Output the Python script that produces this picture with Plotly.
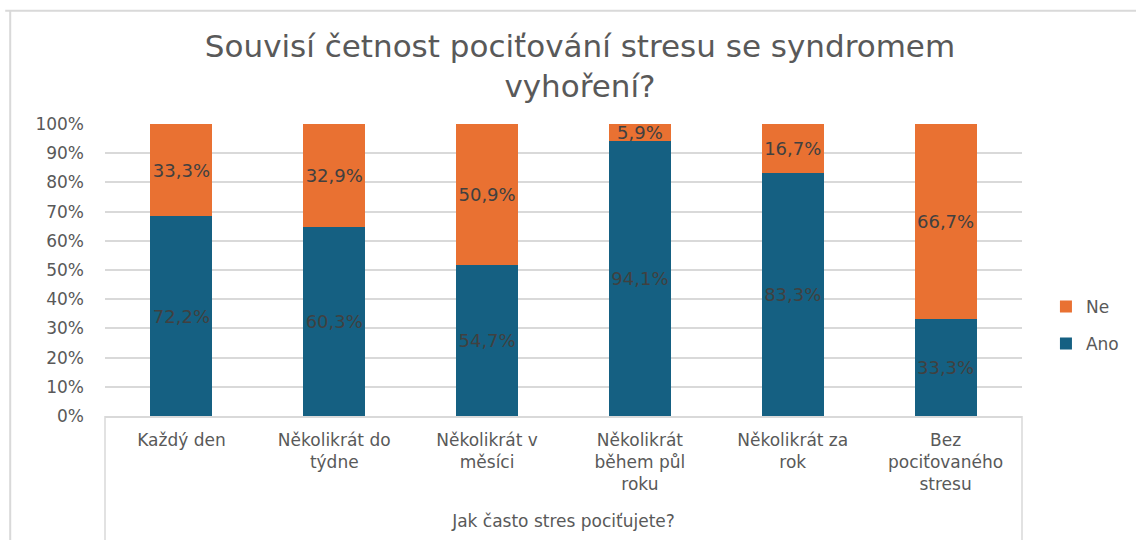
import plotly.graph_objects as go

# Stress frequency categories (x axis)
categories = [
    "Každý den",
    "Několikrát do<br>týdne",
    "Několikrát v<br>měsíci",
    "Několikrát<br>během půl<br>roku",
    "Několikrát za<br>rok",
    "Bez<br>pociťovaného<br>stresu",
]

# Shares of respondents per answer (percent)
ano_values = [72.2, 60.3, 54.7, 94.1, 83.3, 33.3]
ne_values = [33.3, 32.9, 50.9, 5.9, 16.7, 66.7]

ANO_COLOR = "#156082"
NE_COLOR = "#E97132"
GRID = "#D9D9D9"
TEXT_GRAY = "#595959"
LABEL_GRAY = "#404040"
FONT = "DejaVu Sans, Liberation Sans, sans-serif"


def fmt(v):
    return f"{v:.1f}".replace(".", ",") + "%"


fig = go.Figure()
fig.add_trace(go.Bar(
    name="Ano", x=categories, y=ano_values,
    text=[fmt(v) for v in ano_values],
    marker=dict(color=ANO_COLOR, line=dict(width=0)),
    legendgroup="ano", legendrank=2,
))
fig.add_trace(go.Bar(
    name="Ne", x=categories, y=ne_values,
    text=[fmt(v) for v in ne_values],
    marker=dict(color=NE_COLOR, line=dict(width=0)),
    legendgroup="ne", legendrank=1,
))
fig.update_traces(
    textposition="inside", insidetextanchor="middle",
    textangle=0, constraintext="none",
    textfont=dict(family=FONT, size=18, color=LABEL_GRAY),
)

L, R, T, B = 105, 112, 124, 122
W, H = 1136, 540
pw, ph = W - L - R, H - T - B


def px_x(p):
    return (p - L) / pw


def px_y(p):
    return (H - B - p) / ph


shapes = [
    # outer chart frame
    dict(type="line", xref="paper", yref="paper",
         x0=px_x(10), x1=px_x(10), y0=px_y(10), y1=px_y(545),
         line=dict(color=GRID, width=2)),
    dict(type="line", xref="paper", yref="paper",
         x0=px_x(5), x1=px_x(1140), y0=px_y(10), y1=px_y(10),
         line=dict(color=GRID, width=2)),
    # category axis box
    dict(type="line", xref="paper", yref="paper",
         x0=0, x1=0, y0=0, y1=px_y(545),
         line=dict(color=GRID, width=1.5)),
    dict(type="line", xref="paper", yref="paper",
         x0=1, x1=1, y0=0, y1=px_y(545),
         line=dict(color=GRID, width=1.5)),
]

fig.update_layout(
    width=W, height=H,
    barmode="stack", barnorm="percent", bargap=0.595,
    margin=dict(l=L, r=R, t=T, b=B, pad=0),
    paper_bgcolor="white", plot_bgcolor="white",
    font=dict(family=FONT, color=TEXT_GRAY, size=16),
    title=dict(
        text="Souvisí četnost pociťování stresu se syndromem<br>vyhoření?",
        x=580 / W, xanchor="center", y=1 - 57 / H, yanchor="middle",
        font=dict(family=FONT, size=31, color=TEXT_GRAY),
    ),
    legend=dict(
        x=px_x(1048), y=px_y(290), yanchor="top",
        traceorder="grouped", tracegroupgap=12,
        font=dict(family=FONT, size=17, color=TEXT_GRAY),
        bgcolor="rgba(0,0,0,0)",
    ),
    shapes=shapes,
    showlegend=True,
)
fig.update_xaxes(
    showgrid=False, showline=True, linecolor=GRID, linewidth=1.5,
    ticks="", tickfont=dict(family=FONT, size=17, color=TEXT_GRAY),
    ticklabelstandoff=8,
    title=dict(text="Jak často stres pociťujete?",
               font=dict(family=FONT, size=17, color=TEXT_GRAY), standoff=22),
)
fig.update_yaxes(
    range=[0, 100], dtick=10, ticksuffix="%",
    showgrid=True, gridcolor=GRID, gridwidth=1.5,
    zeroline=False, showline=False, ticks="",
    tickfont=dict(family=FONT, size=17, color=TEXT_GRAY),
    ticklabelstandoff=20,
)

fig.write_html("out.html")
